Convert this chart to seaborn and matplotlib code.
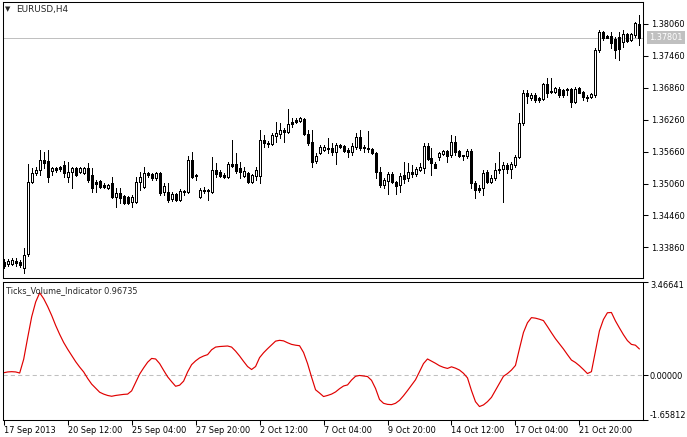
import numpy as np
import pandas as pd
import matplotlib
matplotlib.use("Agg")
import matplotlib.pyplot as plt
import matplotlib.transforms as mtransforms
import seaborn as sns

##### DATA (EURUSD H4)
open_ = [1.3359, 1.3355, 1.3355, 1.3360, 1.3359, 1.3347, 1.3374, 1.3509, 1.3526, 1.3532,
         1.3550, 1.3548, 1.3530, 1.3532, 1.3537, 1.3541, 1.3518, 1.3528, 1.3535, 1.3528,
         1.3526, 1.3535, 1.3522, 1.3505, 1.3511, 1.3503, 1.3498, 1.3507, 1.3481, 1.3488,
         1.3483, 1.3481, 1.3471, 1.3471, 1.3509, 1.3500, 1.3522, 1.3524, 1.3516, 1.3526,
         1.3490, 1.3490, 1.3477, 1.3486, 1.3475, 1.3492, 1.3490, 1.3550, 1.3522, 1.3481,
         1.3494, 1.3492, 1.3490, 1.3532, 1.3528, 1.3522, 1.3518, 1.3543, 1.3543, 1.3535,
         1.3520, 1.3526, 1.3509, 1.3520, 1.3520, 1.3588, 1.3582, 1.3580, 1.3595, 1.3599,
         1.3607, 1.3603, 1.3618, 1.3622, 1.3624, 1.3627, 1.3599, 1.3584, 1.3548, 1.3563,
         1.3569, 1.3573, 1.3573, 1.3565, 1.3579, 1.3577, 1.3569, 1.3565, 1.3575, 1.3594,
         1.3575, 1.3573, 1.3571, 1.3563, 1.3528, 1.3503, 1.3511, 1.3524, 1.3509, 1.3503,
         1.3522, 1.3516, 1.3528, 1.3524, 1.3532, 1.3535, 1.3577, 1.3554, 1.3543, 1.3556,
         1.3562, 1.3567, 1.3560, 1.3584, 1.3567, 1.3560, 1.3558, 1.3567, 1.3507, 1.3494,
         1.3498, 1.3528, 1.3509, 1.3516, 1.3533, 1.3533, 1.3541, 1.3533, 1.3541, 1.3556,
         1.3620, 1.3676, 1.3667, 1.3673, 1.3667, 1.3665, 1.3693, 1.3680, 1.3678, 1.3684,
         1.3682, 1.3682, 1.3684, 1.3659, 1.3686, 1.3678, 1.3669, 1.3669, 1.3673, 1.3757,
         1.3791, 1.3780, 1.3783, 1.3778, 1.3782, 1.3772, 1.3787, 1.3776, 1.3785, 1.3806]
high = [1.3364, 1.3364, 1.3366, 1.3366, 1.3362, 1.3385, 1.3543, 1.3535, 1.3537, 1.3569,
        1.3565, 1.3569, 1.3537, 1.3537, 1.3539, 1.3548, 1.3547, 1.3537, 1.3537, 1.3537,
        1.3537, 1.3545, 1.3535, 1.3513, 1.3513, 1.3507, 1.3505, 1.3518, 1.3498, 1.3498,
        1.3485, 1.3483, 1.3485, 1.3518, 1.3528, 1.3537, 1.3528, 1.3526, 1.3528, 1.3528,
        1.3507, 1.3507, 1.3490, 1.3488, 1.3496, 1.3494, 1.3558, 1.3565, 1.3524, 1.3498,
        1.3500, 1.3496, 1.3556, 1.3545, 1.3532, 1.3526, 1.3547, 1.3588, 1.3563, 1.3547,
        1.3537, 1.3528, 1.3524, 1.3537, 1.3607, 1.3597, 1.3586, 1.3601, 1.3622, 1.3620,
        1.3611, 1.3646, 1.3629, 1.3629, 1.3631, 1.3629, 1.3607, 1.3607, 1.3563, 1.3579,
        1.3579, 1.3592, 1.3582, 1.3582, 1.3580, 1.3579, 1.3573, 1.3582, 1.3601, 1.3607,
        1.3579, 1.3605, 1.3573, 1.3565, 1.3537, 1.3516, 1.3528, 1.3528, 1.3511, 1.3526,
        1.3547, 1.3545, 1.3541, 1.3537, 1.3545, 1.3582, 1.3582, 1.3573, 1.3547, 1.3565,
        1.3569, 1.3569, 1.3597, 1.3595, 1.3569, 1.3560, 1.3571, 1.3571, 1.3511, 1.3503,
        1.3532, 1.3532, 1.3522, 1.3545, 1.3565, 1.3547, 1.3545, 1.3547, 1.3560, 1.3639,
        1.3682, 1.3682, 1.3676, 1.3676, 1.3669, 1.3695, 1.3704, 1.3704, 1.3688, 1.3688,
        1.3684, 1.3686, 1.3686, 1.3688, 1.3688, 1.3680, 1.3673, 1.3676, 1.3761, 1.3795,
        1.3793, 1.3785, 1.3791, 1.3782, 1.3791, 1.3795, 1.3789, 1.3789, 1.3810, 1.3823]
low = [1.3347, 1.3351, 1.3353, 1.3351, 1.3349, 1.3338, 1.3370, 1.3507, 1.3522, 1.3522,
       1.3535, 1.3509, 1.3522, 1.3528, 1.3530, 1.3518, 1.3509, 1.3498, 1.3520, 1.3526,
       1.3524, 1.3509, 1.3490, 1.3490, 1.3498, 1.3498, 1.3496, 1.3479, 1.3462, 1.3469,
       1.3468, 1.3468, 1.3462, 1.3469, 1.3494, 1.3498, 1.3518, 1.3513, 1.3513, 1.3484,
       1.3484, 1.3471, 1.3473, 1.3473, 1.3473, 1.3484, 1.3488, 1.3516, 1.3513, 1.3479,
       1.3488, 1.3475, 1.3488, 1.3518, 1.3518, 1.3516, 1.3516, 1.3537, 1.3526, 1.3516,
       1.3518, 1.3507, 1.3507, 1.3513, 1.3507, 1.3575, 1.3575, 1.3579, 1.3584, 1.3592,
       1.3584, 1.3601, 1.3612, 1.3620, 1.3622, 1.3597, 1.3579, 1.3537, 1.3545, 1.3562,
       1.3567, 1.3563, 1.3560, 1.3543, 1.3573, 1.3565, 1.3556, 1.3560, 1.3571, 1.3569,
       1.3565, 1.3565, 1.3562, 1.3516, 1.3500, 1.3498, 1.3486, 1.3507, 1.3486, 1.3490,
       1.3507, 1.3511, 1.3518, 1.3520, 1.3530, 1.3526, 1.3550, 1.3522, 1.3535, 1.3550,
       1.3560, 1.3547, 1.3556, 1.3560, 1.3556, 1.3550, 1.3554, 1.3498, 1.3479, 1.3490,
       1.3484, 1.3507, 1.3507, 1.3513, 1.3526, 1.3471, 1.3526, 1.3516, 1.3537, 1.3554,
       1.3616, 1.3658, 1.3663, 1.3659, 1.3659, 1.3663, 1.3669, 1.3676, 1.3676, 1.3669,
       1.3669, 1.3673, 1.3650, 1.3658, 1.3676, 1.3663, 1.3661, 1.3667, 1.3669, 1.3753,
       1.3776, 1.3780, 1.3761, 1.3742, 1.3738, 1.3763, 1.3772, 1.3774, 1.3782, 1.3767]
close = [1.3351, 1.3360, 1.3362, 1.3357, 1.3353, 1.3372, 1.3509, 1.3526, 1.3532, 1.3550,
         1.3545, 1.3518, 1.3535, 1.3535, 1.3533, 1.3526, 1.3528, 1.3535, 1.3522, 1.3535,
         1.3535, 1.3513, 1.3498, 1.3509, 1.3500, 1.3500, 1.3503, 1.3481, 1.3488, 1.3479,
         1.3469, 1.3469, 1.3481, 1.3509, 1.3518, 1.3526, 1.3526, 1.3516, 1.3526, 1.3488,
         1.3501, 1.3475, 1.3486, 1.3475, 1.3492, 1.3490, 1.3550, 1.3518, 1.3520, 1.3494,
         1.3492, 1.3492, 1.3532, 1.3524, 1.3520, 1.3518, 1.3543, 1.3539, 1.3530, 1.3528,
         1.3530, 1.3509, 1.3522, 1.3532, 1.3588, 1.3582, 1.3580, 1.3597, 1.3601, 1.3607,
         1.3603, 1.3618, 1.3622, 1.3626, 1.3629, 1.3599, 1.3582, 1.3547, 1.3558, 1.3575,
         1.3575, 1.3571, 1.3565, 1.3579, 1.3575, 1.3567, 1.3565, 1.3577, 1.3594, 1.3573,
         1.3573, 1.3571, 1.3563, 1.3528, 1.3503, 1.3513, 1.3524, 1.3509, 1.3501, 1.3520,
         1.3515, 1.3528, 1.3524, 1.3533, 1.3537, 1.3577, 1.3552, 1.3545, 1.3535, 1.3563,
         1.3567, 1.3558, 1.3584, 1.3565, 1.3558, 1.3558, 1.3567, 1.3507, 1.3494, 1.3498,
         1.3526, 1.3509, 1.3516, 1.3532, 1.3532, 1.3541, 1.3533, 1.3543, 1.3556, 1.3620,
         1.3676, 1.3671, 1.3673, 1.3663, 1.3663, 1.3693, 1.3676, 1.3678, 1.3686, 1.3673,
         1.3673, 1.3682, 1.3659, 1.3684, 1.3676, 1.3669, 1.3667, 1.3674, 1.3757, 1.3791,
         1.3780, 1.3783, 1.3770, 1.3757, 1.3759, 1.3787, 1.3774, 1.3787, 1.3808, 1.3780]

# Ticks_Volume_Indicator, one value per bar
tvi = [0.09, 0.12, 0.13, 0.12, 0.08, 0.59, 1.39, 2.16, 2.71, 3.05,
       2.83, 2.54, 2.21, 1.84, 1.51, 1.21, 0.96, 0.73, 0.50, 0.30,
       0.12, -0.12, -0.33, -0.48, -0.63, -0.70, -0.75, -0.78, -0.75, -0.73,
       -0.71, -0.70, -0.58, -0.27, 0.04, 0.27, 0.48, 0.62, 0.60, 0.43,
       0.18, -0.06, -0.24, -0.41, -0.37, -0.22, 0.12, 0.39, 0.53, 0.64,
       0.71, 0.76, 0.94, 1.04, 1.06, 1.07, 1.08, 1.04, 0.89, 0.71,
       0.51, 0.32, 0.21, 0.32, 0.65, 0.83, 0.98, 1.12, 1.26, 1.29,
       1.27, 1.20, 1.14, 1.11, 1.09, 0.84, 0.43, -0.07, -0.54, -0.66,
       -0.79, -0.75, -0.70, -0.62, -0.50, -0.40, -0.36, -0.18, -0.04, -0.01,
       -0.03, -0.05, -0.19, -0.49, -0.90, -1.04, -1.08, -1.09, -1.04, -0.93,
       -0.76, -0.57, -0.37, -0.17, 0.13, 0.43, 0.60, 0.52, 0.44, 0.35,
       0.29, 0.25, 0.31, 0.26, 0.19, 0.07, -0.10, -0.57, -0.98, -1.16,
       -1.10, -0.98, -0.82, -0.56, -0.30, -0.04, 0.06, 0.19, 0.36, 0.98,
       1.58, 1.94, 2.13, 2.11, 2.07, 2.02, 1.80, 1.57, 1.35, 1.16,
       0.97, 0.76, 0.56, 0.47, 0.35, 0.21, 0.06, 0.13, 0.89, 1.64,
       2.06, 2.31, 2.32, 2.01, 1.75, 1.50, 1.28, 1.14, 1.11, 0.97]

last_price = 1.37801
tvi_last = 0.96735
price_ticks = [1.38060, 1.37460, 1.36860, 1.36260, 1.35660, 1.35060, 1.34460, 1.33860]
tvi_ticks = [3.46641, 0.0, -1.65812]
time_ticks = [0, 16, 32, 48, 64, 80, 96, 112, 128, 144]
time_labels = ["17 Sep 2013", "20 Sep 12:00", "25 Sep 04:00", "27 Sep 20:00", "2 Oct 12:00",
               "7 Oct 04:00", "9 Oct 20:00", "14 Oct 12:00", "17 Oct 04:00", "21 Oct 20:00"]

##### PLOT
sns.set_style("white")
plt.rcParams["font.family"] = ["DejaVu Sans"]
FS = 5.9
W, H = 687, 437
PX = 0.72  # one screen pixel in points
price_lim = (1.33285, 1.38473)
main_h = 276

df = pd.DataFrame({"open": open_, "high": high, "low": low, "close": close})
df["bar"] = np.arange(len(df))
df["lo"] = df[["open", "close"]].min(axis=1)
df["hi"] = df[["open", "close"]].max(axis=1)
up = df["close"] >= df["open"]
one_px = (price_lim[1] - price_lim[0]) / main_h
# a flat candle still shows as a 1 px line
df["hi"] = np.maximum(df["hi"], df["lo"] + one_px)

fig = plt.figure(figsize=(W / 100, H / 100), dpi=100)
ax1 = fig.add_axes([2.5 / W, 1 - 278 / H, 640.5 / W, main_h / H])
ax2 = fig.add_axes([2.5 / W, 1 - 420 / H, 640.5 / W, 138.5 / H])

# candles: wick, then 3 px body, then hollow centre for rising bars
ax1.axhline(last_price, color="#C0C0C0", lw=PX, zorder=1)
ax1.vlines(df["bar"], df["low"], df["high"], color="black", lw=PX,
           antialiased=False, zorder=2)
ax1.vlines(df["bar"], df["lo"], df["hi"], color="black", lw=3 * PX,
           capstyle="butt", antialiased=False, zorder=3)
hollow = up & ((df["hi"] - df["lo"]) > 2 * one_px)
ax1.vlines(df["bar"][hollow], (df["lo"] + one_px)[hollow], (df["hi"] - one_px)[hollow],
           color="white", lw=PX, capstyle="butt", antialiased=False, zorder=4)

ax1.set_xlim(-0.3, 159.9)
ax1.set_ylim(*price_lim)
ax1.set_xticks([])
ax1.yaxis.tick_right()
ax1.set_yticks(price_ticks)
ax1.set_yticklabels(["%.5f" % t for t in price_ticks])
ax1.tick_params(axis="y", direction="out", length=3.5, width=0.75, pad=2,
                labelsize=FS, colors="black", right=True)

trans = mtransforms.blended_transform_factory(ax1.transAxes, ax1.transData)
ax1.text(1.0095, last_price, "%.5f" % last_price, transform=trans, fontsize=FS,
         color="white", va="center", ha="left",
         bbox=dict(boxstyle="square,pad=0.25", fc="#C0C0C0", ec="none"))

# indicator
sns.lineplot(x=np.arange(len(tvi)), y=tvi, ax=ax2, color="#E00000", lw=0.85)
ax2.axhline(0, color="#C0C0C0", lw=0.75, ls=(0, (4, 3)), zorder=0)
ax2.set_xlim(-0.3, 159.9)
ax2.set_ylim(tvi_ticks[2], tvi_ticks[0])
ax2.yaxis.tick_right()
ax2.set_yticks(tvi_ticks)
ax2.set_yticklabels(["%.5f" % t for t in tvi_ticks])
labs = ax2.get_yticklabels()
labs[0].set_va("top")
labs[2].set_va("bottom")
ax2.set_xticks(time_ticks)
ax2.set_xticklabels(time_labels, ha="left")
ax2.tick_params(axis="y", direction="out", length=3.5, width=0.75, pad=1.5,
                labelsize=FS, colors="black")
ax2.tick_params(axis="x", direction="out", length=3.5, width=0.75, pad=1,
                labelsize=FS, colors="black", bottom=True)
ax2.set_xlabel("")
ax2.set_ylabel("")

for ax in (ax1, ax2):
    for s in ax.spines.values():
        s.set_color("black")
        s.set_linewidth(0.75)

fig.text(5 / W, 1 - 9.5 / H, "\u25bc", fontsize=5, va="center", ha="left")
fig.text(16.5 / W, 1 - 9.5 / H, "EURUSD,H4", fontsize=6.4, va="center", ha="left")
fig.text(6 / W, 1 - 290.5 / H, "Ticks_Volume_Indicator %.5f" % tvi_last,
         fontsize=FS, va="center", ha="left")

fig.savefig("out.png", dpi=100, facecolor="white")
